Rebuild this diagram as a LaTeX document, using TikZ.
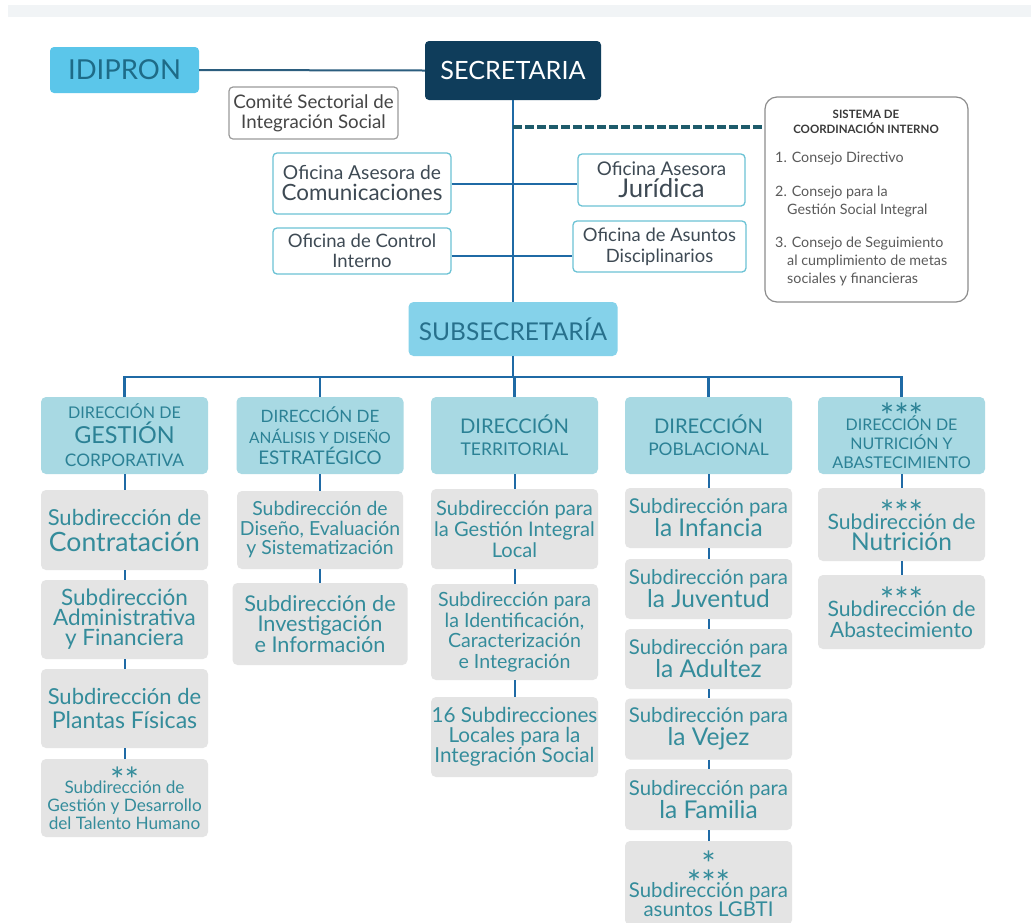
\documentclass[tikz,border=0pt]{standalone}
\usepackage{fontspec}
\setmainfont{Lato}
\definecolor{idfill}{HTML}{5BC6EA}
\definecolor{idtext}{HTML}{1E6B87}
\definecolor{navy}{HTML}{0F3D5B}
\definecolor{subsecfill}{HTML}{85D2EA}
\definecolor{subsectext}{HTML}{27708C}
\definecolor{dirfill}{HTML}{A8D9E3}
\definecolor{dirtext}{HTML}{2B8195}
\definecolor{subfill}{HTML}{E4E4E4}
\definecolor{subtext}{HTML}{348C9B}
\definecolor{lineblue}{HTML}{1F6AA5}
\definecolor{idline}{HTML}{2B5D7E}
\definecolor{ofborder}{HTML}{6CC3D5}
\definecolor{ofitext}{HTML}{3E4A54}
\definecolor{grayborder}{HTML}{9A9A9A}
\definecolor{comitetext}{HTML}{454545}
\definecolor{sysborder}{HTML}{8C8C8C}
\definecolor{systext}{HTML}{5A5A5A}
\definecolor{systitle}{HTML}{3A3A3A}
\definecolor{dashcol}{HTML}{1E5B6B}
\definecolor{topband}{HTML}{F1F4F6}
\newcommand\fz[1]{\fontsize{#1}{#1}\selectfont}
\newcommand\lh[1]{\fontsize{10}{#1}\selectfont}
\newcommand\stars[1]{\raisebox{-17pt}[10pt][0pt]{\fz{34}#1}}
\tikzset{
  conn/.style={draw=lineblue, line width=2pt},
  idbox/.style={fill=idfill, rounded corners=4pt, text=idtext, minimum width=149pt, minimum height=46pt, inner sep=0pt},
  secbox/.style={fill=navy, rounded corners=4pt, text=white, minimum width=176pt, minimum height=59pt, inner sep=0pt},
  comitebox/.style={draw=grayborder, line width=1.2pt, fill=white, rounded corners=4pt, text=comitetext, align=center, minimum width=169pt, minimum height=52pt, inner sep=0pt},
  ofi/.style={draw=ofborder, line width=1.3pt, fill=white, rounded corners=4pt, text=ofitext, align=center, inner sep=0pt},
  sysbox/.style={draw=sysborder, line width=1.2pt, fill=white, rounded corners=12pt, minimum width=203pt, minimum height=205pt, inner sep=0pt},
  systitlestyle/.style={text=systitle, font=\fz{11.5}\bfseries, inner sep=0pt},
  sysitem/.style={text=systext, font=\fz{14.3}, anchor=west, inner sep=0pt},
  subsecbox/.style={fill=subsecfill, rounded corners=5pt, text=subsectext, minimum width=209pt, minimum height=54pt, inner sep=0pt},
  dirbox/.style={fill=dirfill, rounded corners=5pt, text=dirtext, align=center, minimum width=167pt, minimum height=77pt, inner sep=0pt},
  subbox/.style={fill=subfill, rounded corners=5pt, text=subtext, align=center, minimum width=167pt, inner sep=0pt},
}
\begin{document}
\begin{tikzpicture}[x=1pt,y=-1pt]
\path[use as bounding box, clip] (0,0) rectangle (1031,922);
\fill[white] (0,0) rectangle (1031,922);
\fill[topband] (8,5) rectangle (1031,17);

% top level
\node[idbox] (idipron) at (124.5,70) {\fz{27.5}IDIPRON};
\node[secbox] (secretaria) at (513,70.5) {\fz{25.2}SECRETARIA};
\node[comitebox, font=\lh{20}] (comite) at (313.5,113) {\fz{18.7}Comité Sectorial de\\\fz{18.7}Integración Social};

% offices
\node[ofi, font=\lh{21}, minimum width=178pt, minimum height=61pt] (ofcom) at (362,183.5) {\fz{19.2}Oficina Asesora de\\\fz{22.4}Comunicaciones};
\node[ofi, font=\lh{22}, minimum width=167pt, minimum height=52pt] (ofjur) at (661.5,180) {\fz{18.8}Oficina Asesora\\\fz{25.8}Jurídica};
\node[ofi, font=\lh{20}, minimum width=178pt, minimum height=46pt] (ofci) at (362,251) {\fz{18.5}Oficina de Control\\\fz{18.5}Interno};
\node[ofi, font=\lh{21}, minimum width=173pt, minimum height=51pt] (ofad) at (659.5,246.5) {\fz{18.4}Oficina de Asuntos\\\fz{18.4}Disciplinarios};

% sistema
\node[sysbox] (sistema) at (866.5,199.5) {};
\node[systitlestyle] (st1) at (866,114) {SISTEMA DE};
\node[systitlestyle] (st2) at (866,128) {COORDINACIÓN INTERNO};
\node[sysitem] (si1) at (775,159) {1. Consejo Directivo};
\node[sysitem] (si2) at (775,193) {2. Consejo para la};
\node[sysitem] (si2b) at (787,211) {Gestión Social Integral};
\node[sysitem] (si3) at (775,244) {3. Consejo de Seguimiento};
\node[sysitem] (si3b) at (787,261) {al cumplimiento de metas};
\node[sysitem] (si3c) at (787,279) {sociales y financieras};

% subsecretaria
\node[subsecbox] (subsec) at (513,329) {\fz{24.5}SUBSECRETARÍA};

% direcciones
\node[dirbox, font=\lh{23}] (d1) at (124.5,435.5) {\fz{16.1}DIRECCIÓN DE\\[2pt]\fz{23.4}GESTIÓN\\\fz{17.3}CORPORATIVA};
\node[dirbox, font=\lh{21}] (d2) at (320,435.5) {\fz{17}DIRECCIÓN DE\\\fz{15.5}ANÁLISIS Y DISEÑO\\\fz{18.8}ESTRATÉGICO};
\node[dirbox, font=\lh{22}] (d3) at (514.5,435.5) {\fz{20.2}DIRECCIÓN\\\fz{17.5}TERRITORIAL};
\node[dirbox, font=\lh{22}] (d4) at (708.5,435.5) {\fz{20.2}DIRECCIÓN\\\fz{17.4}POBLACIONAL};
\node[dirbox, font=\lh{19}] (d5) at (901.5,435.5) {\stars{***}\\\fz{16}DIRECCIÓN DE\\\fz{16}NUTRICIÓN Y\\\fz{16.2}ABASTECIMIENTO};

% column 1
\node[subbox, font=\lh{26}, minimum height=80pt] (s1a) at (124.5,530) {\fz{22}Subdirección de\\\fz{26.6}Contratación};
\node[subbox, font=\lh{20}, minimum height=79pt] (s1b) at (124.5,619.5) {\fz{22.5}Subdirección\\\fz{22.5}Administrativa\\\fz{22.5}y Financiera};
\node[subbox, font=\lh{24}, minimum height=79pt] (s1c) at (124.5,708.5) {\fz{22}Subdirección de\\\fz{23.1}Plantas Físicas};
\node[subbox, font=\lh{18}, minimum height=78pt] (s1d) at (124.5,798) {\stars{**}\\\fz{17.2}Subdirección de\\\fz{17.2}Gestión y Desarrollo\\\fz{17.2}del Talento Humano};

% column 2
\node[subbox, font=\lh{19.5}, minimum width=166pt, minimum height=78pt] (s2a) at (320,530) {\fz{19.4}Subdirección de\\\fz{19.4}Diseño, Evaluación\\\fz{19.4}y Sistematización};
\node[subbox, font=\lh{20.5}, minimum width=175pt, minimum height=82pt] (s2b) at (320,624) {\fz{21.7}Subdirección de\\\fz{21.7}Investigación\\\fz{21.7}e Información};

% column 3
\node[subbox, font=\lh{21}, minimum height=80pt] (s3a) at (514.5,529) {\fz{20.1}Subdirección para\\\fz{20.1}la Gestión Integral\\\fz{20.1}Local};
\node[subbox, font=\lh{20.7}, minimum height=96pt] (s3b) at (514.5,632) {\fz{19.6}Subdirección para\\\fz{19.6}la Identificación,\\\fz{19.6}Caracterización\\\fz{19.6}e Integración};
\node[subbox, font=\lh{20}, minimum height=80pt] (s3c) at (514.5,737) {\fz{20.7}16 Subdirecciones\\\fz{20.7}Locales para la\\\fz{20.7}Integración Social};

% column 4
\node[subbox, font=\lh{23}, minimum height=60pt] (s4a) at (708.5,518) {\fz{20.4}Subdirección para\\\fz{24.5}la Infancia};
\node[subbox, font=\lh{23}, minimum height=60pt] (s4b) at (708.5,589) {\fz{20.4}Subdirección para\\\fz{24.5}la Juventud};
\node[subbox, font=\lh{23}, minimum height=60pt] (s4c) at (708.5,659) {\fz{20.4}Subdirección para\\\fz{24.5}la Adultez};
\node[subbox, font=\lh{23}, minimum height=61pt] (s4d) at (708.5,729) {\fz{20.4}Subdirección para\\\fz{24.5}la Vejez};
\node[subbox, font=\lh{23}, minimum height=61pt] (s4e) at (708.5,799.5) {\fz{20.4}Subdirección para\\\fz{24.5}la Familia};
\node[subbox, font=\lh{19}, minimum height=84pt] (s4f) at (708.5,883) {\stars{*}\\\stars{***}\\\fz{20.4}Subdirección para\\\fz{20.4}asuntos LGBTI};

% column 5
\node[subbox, font=\lh{21}, minimum height=73pt] (s5a) at (901.5,524.5) {\stars{***}\\\fz{21.2}Subdirección de\\\fz{24.5}Nutrición};
\node[subbox, font=\lh{21}, minimum height=74pt] (s5b) at (901.5,612) {\stars{***}\\\fz{21.2}Subdirección de\\\fz{20.9}Abastecimiento};

% connectors
\draw[draw=idline, line width=2pt] (idipron.east) -- (secretaria.west);
\draw[conn] (secretaria.south) -- (subsec.north);
\draw[conn] (ofcom.east) -- (ofcom.east -| ofjur.west);
\draw[conn] ([yshift=-5pt]ofci.east) -- ([yshift=-5pt]ofci.east -| ofad.west);
\coordinate (dashstart) at (513,127);
\draw[draw=dashcol, line width=3.5pt, dash pattern=on 9pt off 3pt] (dashstart) -- (dashstart -| sistema.west);
\coordinate (bus) at (513,377);
\foreach \d in {d1,d2,d3,d4,d5}{
  \draw[conn, line width=2.3pt] (subsec.south) |- (bus -| \d.north) -- (\d.north);
}
\draw[conn] (d1.south) -- (s1a.north);
\draw[conn] (s1a.south) -- (s1b.north);
\draw[conn] (s1b.south) -- (s1c.north);
\draw[conn] (s1c.south) -- (s1d.north);
\draw[conn] (d2.south) -- (s2a.north);
\draw[conn] (s2a.south) -- (s2b.north);
\draw[conn] (d3.south) -- (s3a.north);
\draw[conn] (s3a.south) -- (s3b.north);
\draw[conn] (s3b.south) -- (s3c.north);
\draw[conn] (d4.south) -- (s4a.north);
\draw[conn] (s4a.south) -- (s4b.north);
\draw[conn] (s4b.south) -- (s4c.north);
\draw[conn] (s4c.south) -- (s4d.north);
\draw[conn] (s4d.south) -- (s4e.north);
\draw[conn] (s4e.south) -- (s4f.north);
\draw[conn] (d5.south) -- (s5a.north);
\draw[conn] (s5a.south) -- (s5b.north);
\end{tikzpicture}
\end{document}
